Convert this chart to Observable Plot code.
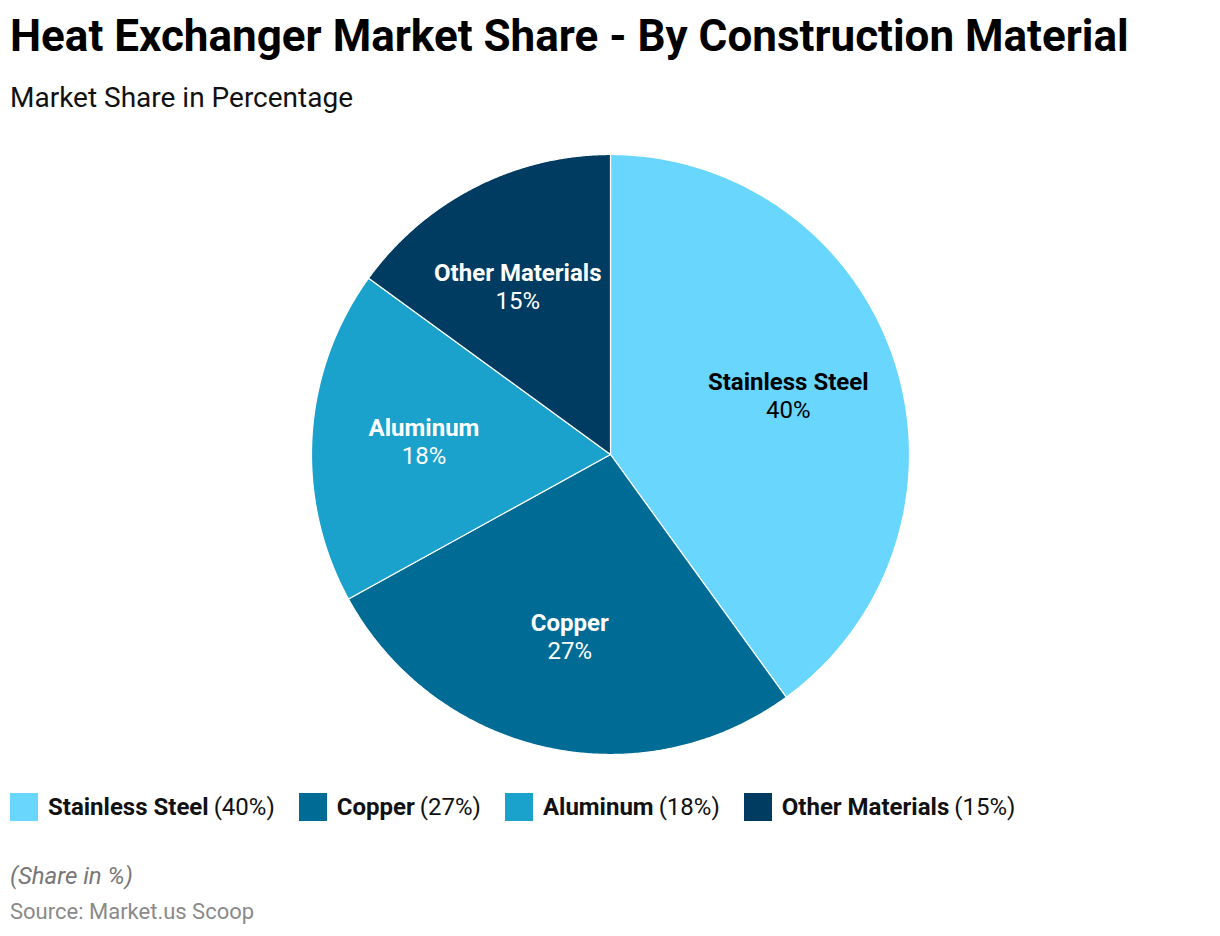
<!DOCTYPE html>
<html>
<head>
<meta charset="utf-8">
<script src="https://cdn.jsdelivr.net/npm/d3@7"></script>
<script src="https://cdn.jsdelivr.net/npm/@observablehq/plot@0.6"></script>
<style>
  html, body { margin: 0; padding: 0; background: #fff; }
  body { width: 1220px; height: 936px; position: relative; font-family: Roboto, "Noto Sans", sans-serif; overflow: hidden; }
  #title { position: absolute; left: 10px; top: 10px; font-size: 44px; font-weight: 700; color: #000; white-space: nowrap; }
  #subtitle { position: absolute; left: 10px; top: 81px; font-size: 28px; color: #111; white-space: nowrap; }
  #chart { position: absolute; left: 0; top: 140px; }
  #legend { position: absolute; left: 10px; top: 793px; height: 28px; display: flex; align-items: center; font-size: 24px; color: #111; white-space: nowrap; }
  .item { display: flex; align-items: center; margin-right: 24px; }
  .sw { width: 28px; height: 28px; margin-right: 10px; }
  .item b { font-weight: 700; margin-right: 5px; }
  #caption { position: absolute; left: 10px; top: 862px; font-size: 24px; font-style: italic; color: #777; white-space: nowrap; }
  #source { position: absolute; left: 10px; top: 899px; font-size: 22px; color: #8a8a8a; white-space: nowrap; }
</style>
</head>
<body>
<div id="title">Heat Exchanger Market Share - By Construction Material</div>
<div id="subtitle">Market Share in Percentage</div>
<div id="chart"></div>
<div id="legend"></div>
<div id="caption">(Share in %)</div>
<div id="source">Source: Market.us Scoop</div>
<script>
const categories = ["Stainless Steel", "Copper", "Aluminum", "Other Materials"];
const shares = [40, 27, 18, 15];
const colors = ["#68d6fd", "#006c95", "#1aa1cc", "#003c61"];
const labelColors = ["#000000", "#ffffff", "#ffffff", "#ffffff"];

const W = 1220, H = 628, R = 299;
const ctx = document.createElement("canvas").getContext("2d");
ctx.font = "bold 24px Roboto";

const total = d3.sum(shares);
let cum = 0;
const slices = categories.map((name, i) => {
  const a0 = cum / total * 2 * Math.PI;
  cum += shares[i];
  const a1 = cum / total * 2 * Math.PI;
  const pts = [{x: 0, y: 0}];
  const n = 240;
  for (let k = 0; k <= n; k++) {
    const a = a0 + (a1 - a0) * k / n;
    pts.push({x: Math.sin(a), y: Math.cos(a)});
  }
  pts.push({x: 0, y: 0});
  const am = (a0 + a1) / 2;
  const rl = 0.625;
  let lx = rl * Math.sin(am);
  const ly = rl * Math.cos(am);
  // keep a label that ends at the top boundary inside its slice
  if (Math.abs(a1 - 2 * Math.PI) < 1e-9) {
    const half = ctx.measureText(name).width / 2 / R;
    lx = Math.min(lx, -half - 9 / R);
  }
  return {name, share: shares[i], color: colors[i], textColor: labelColors[i], pts, lx, ly};
});

const marks = slices.map(s => Plot.line(s.pts, {x: "x", y: "y", fill: s.color, stroke: "#ffffff", strokeWidth: 1.2, strokeLinejoin: "round"}));
marks.push(
  Plot.text(slices, {x: "lx", y: "ly", text: "name", fill: "textColor", dy: -14, fontSize: 24, fontWeight: 700, fontFamily: "Roboto"}),
  Plot.text(slices, {x: "lx", y: "ly", text: d => d.share + "%", fill: "textColor", dy: 14, fontSize: 24, fontFamily: "Roboto"})
);

const chart = Plot.plot({
  width: W,
  height: H,
  marginLeft: 311, marginRight: 311, marginTop: 14, marginBottom: 14,
  x: {domain: [-1, 1], axis: null},
  y: {domain: [-1, 1], axis: null},
  style: {background: "transparent", overflow: "visible"},
  marks
});
document.getElementById("chart").appendChild(chart);

const legend = document.getElementById("legend");
slices.forEach(s => {
  const it = document.createElement("div");
  it.className = "item";
  it.innerHTML = `<div class="sw" style="background:${s.color}"></div><b>${s.name}</b><span>(${s.share}%)</span>`;
  legend.appendChild(it);
});
</script>
</body>
</html>
